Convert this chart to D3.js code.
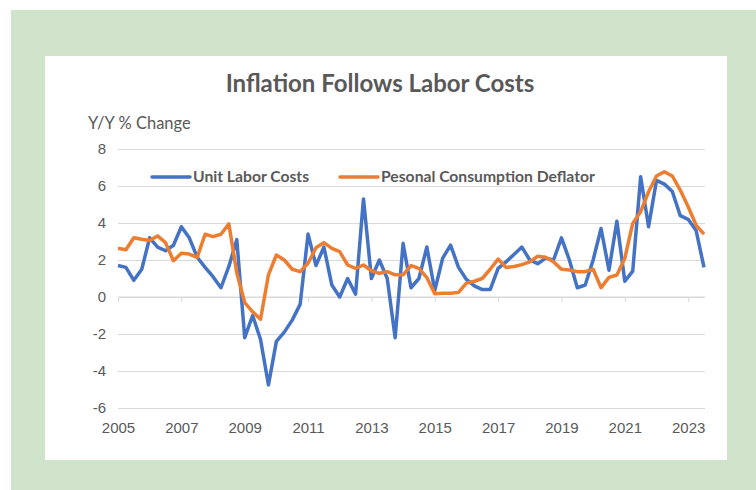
<!DOCTYPE html>
<html>
<head>
<meta charset="utf-8">
<script src="https://cdn.jsdelivr.net/npm/d3@7"></script>
<style>
  body { margin: 0; background: #fff; }
  svg { display: block; font-family: Lato, "Noto Sans", sans-serif; }
</style>
</head>
<body>
<div id="chart"></div>
<script>
// quarterly, 2005Q1 .. 2023Q3
let startYear = 2005;
let unitLaborCosts = [
  1.7, 1.6, 0.9, 1.5, 3.2, 2.7, 2.5, 2.8, 3.8, 3.2, 2.15, 1.6, 1.1, 0.5, 1.65, 3.1,
  -2.2, -1.0, -2.3, -4.75, -2.4, -1.9, -1.25, -0.4, 3.4, 1.7, 2.7, 0.65, 0.0, 1.0, 0.15, 5.3,
  1.0, 2.0, 1.0, -2.2, 2.9, 0.5, 1.0, 2.7, 0.35, 2.1, 2.8, 1.6, 0.95, 0.6, 0.4, 0.4,
  1.55, 1.9, 2.3, 2.7, 2.0, 1.8, 2.1, 2.0, 3.2, 2.0, 0.5, 0.65, 2.0, 3.7, 1.45, 4.1,
  0.85, 1.4, 6.5, 3.8, 6.3, 6.1, 5.7, 4.4, 4.2, 3.6, 1.6
];
let pceDeflator = [
  2.63, 2.55, 3.2, 3.12, 3.05, 3.3, 2.94, 1.96, 2.36, 2.32, 2.14, 3.39, 3.26, 3.39, 3.95, 1.31,
  -0.3, -0.8, -1.2, 1.2, 2.27, 2.0, 1.5, 1.37, 1.82, 2.66, 2.94, 2.63, 2.45, 1.73, 1.55, 1.73,
  1.42, 1.28, 1.37, 1.2, 1.2, 1.7, 1.55, 1.05, 0.18, 0.2, 0.2, 0.25, 0.75, 0.85, 1.0, 1.5,
  2.05, 1.6, 1.65, 1.75, 1.9, 2.2, 2.15, 1.9, 1.5, 1.46, 1.37, 1.37, 1.5, 0.5, 1.06, 1.19,
  2.09, 3.98, 4.61, 5.69, 6.54, 6.77, 6.54, 5.78, 4.88, 3.89, 3.4
];
let seriesNames = ["Unit Labor Costs", "Pesonal Consumption Deflator"];
let seriesColors = ["#4472C4", "#ED7D31"];
let yTicks = [-6, -4, -2, 0, 2, 4, 6, 8];
let xTicks = [2005, 2007, 2009, 2011, 2013, 2015, 2017, 2019, 2021, 2023];

let width = 756;
let height = 490;
let margin = ({ top: 149, right: 52, bottom: 82, left: 118 });
let textColor = "#595959";
let gridColor = "#d9d9d9";

let quarters = unitLaborCosts.map((d, i) => startYear + i / 4);

const svg = d3.select("#chart").append("svg")
    .attr("width", width)
    .attr("height", height);

// green frame and white panel
svg.append("rect")
    .attr("x", 11).attr("y", 10)
    .attr("width", width - 11).attr("height", height - 10)
    .attr("fill", "#cfe4cb");
svg.append("rect")
    .attr("x", 45).attr("y", 56)
    .attr("width", 682).attr("height", 404)
    .attr("fill", "#fff");

let x = d3.scaleLinear()
    .domain([startYear, quarters[quarters.length - 1]])
    .range([margin.left, width - margin.right]);
let y = d3.scaleLinear()
    .domain([-6, 8])
    .range([height - margin.bottom, margin.top]);

// gridlines + y labels (plain hyphen like Excel)
svg.append("g")
    .attr("transform", `translate(${margin.left},0)`)
    .call(d3.axisLeft(y).tickValues(yTicks).tickFormat(d => String(d))
        .tickSize(-(width - margin.right - margin.left + 1)).tickPadding(12))
    .call(g => g.select(".domain").remove())
    .call(g => g.selectAll("line").attr("stroke", gridColor))
    .call(g => g.selectAll("text").attr("fill", textColor).attr("font-size", 15));

// axis at zero with tick marks
svg.append("g")
    .attr("transform", `translate(0,${y(0)})`)
    .call(d3.axisBottom(x).tickValues(xTicks).tickSize(5).tickFormat(""))
    .call(g => g.select(".domain").attr("stroke", gridColor).attr("d", `M${margin.left},0H${width - margin.right + 1}`))
    .call(g => g.selectAll("line").attr("stroke", gridColor));

// year labels at the bottom
svg.append("g")
    .attr("transform", `translate(0,${y(-6)})`)
    .call(d3.axisBottom(x).tickValues(xTicks).tickSize(0).tickPadding(14).tickFormat(d3.format("d")))
    .call(g => g.select(".domain").remove())
    .call(g => g.selectAll("text").attr("fill", textColor).attr("font-size", 15));

// lines
let line = d3.line()
    .x((d, i) => x(quarters[i]))
    .y(d => y(d));

[unitLaborCosts, pceDeflator].forEach((series, k) => {
    svg.append("path")
        .datum(series)
        .attr("fill", "none")
        .attr("stroke", seriesColors[k])
        .attr("stroke-width", 3.5)
        .attr("stroke-linejoin", "round")
        .attr("d", line);
});

// title
svg.append("text")
    .attr("x", 380).attr("y", 92)
    .attr("text-anchor", "middle")
    .attr("font-size", 24)
    .attr("font-weight", "bold")
    .attr("fill", textColor)
    .text("Inflation Follows Labor Costs");

svg.append("text")
    .attr("x", 88).attr("y", 129)
    .attr("font-size", 16.5)
    .attr("fill", textColor)
    .text("Y/Y % Change");

// legend
let legendX = [152, 340];
seriesNames.forEach((name, k) => {
    svg.append("line")
        .attr("x1", legendX[k]).attr("x2", legendX[k] + 38)
        .attr("y1", 177).attr("y2", 177)
        .attr("stroke", seriesColors[k])
        .attr("stroke-width", 3.5)
        .attr("stroke-linecap", "round");
    svg.append("text")
        .attr("x", legendX[k] + 41).attr("y", 182)
        .attr("font-size", 15.7)
        .attr("font-weight", "bold")
        .attr("fill", textColor)
        .text(name);
});
</script>
</body>
</html>
